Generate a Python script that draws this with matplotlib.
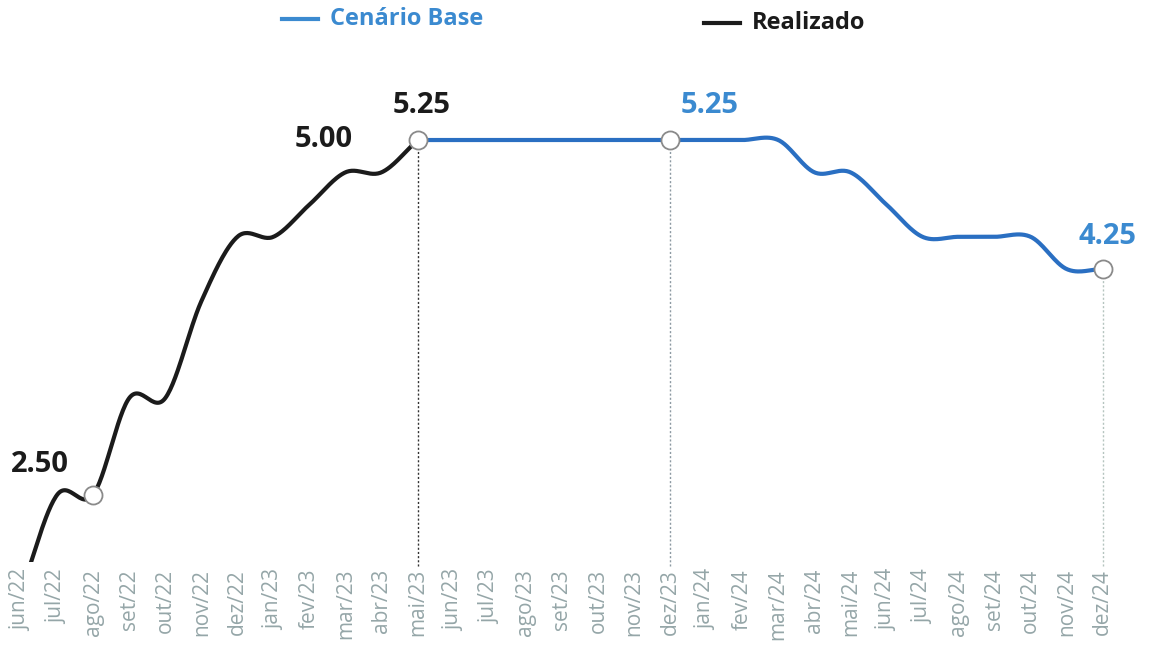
import matplotlib.pyplot as plt
from matplotlib.lines import Line2D
import numpy as np

plt.rcParams["font.family"] = ["Open Sans", "DejaVu Sans"]

months = [
    "jun/22", "jul/22", "ago/22", "set/22", "out/22", "nov/22", "dez/22",
    "jan/23", "fev/23", "mar/23", "abr/23", "mai/23", "jun/23", "jul/23",
    "ago/23", "set/23", "out/23", "nov/23", "dez/23", "jan/24", "fev/24",
    "mar/24", "abr/24", "mai/24", "jun/24", "jul/24", "ago/24", "set/24",
    "out/24", "nov/24", "dez/24",
]
# realizado: jun/22 .. mai/23
realizado = [1.75, 2.50, 2.50, 3.25, 3.25, 4.00, 4.50, 4.50, 4.75, 5.00, 5.00, 5.25]
# cenario base: mai/23 .. dez/24
cenario = [5.25, 5.25, 5.25, 5.25, 5.25, 5.25, 5.25, 5.25, 5.25, 5.25, 5.25,
           5.00, 5.00, 4.75, 4.50, 4.50, 4.50, 4.50, 4.25, 4.25]

BLUE = "#2a6fc2"
BLUE_TXT = "#3b8ad0"
BLACK = "#1b1b1b"
TICK = "#95a6a8"


def smooth(xs, ys, n=30):
    # catmull-rom through the monthly points
    xs = np.asarray(xs, float)
    ys = np.asarray(ys, float)
    m = np.gradient(ys, xs)
    outx, outy = [], []
    for i in range(len(xs) - 1):
        t = np.linspace(0, 1, n)
        h = xs[i + 1] - xs[i]
        h00 = 2 * t**3 - 3 * t**2 + 1
        h10 = t**3 - 2 * t**2 + t
        h01 = -2 * t**3 + 3 * t**2
        h11 = t**3 - t**2
        outx.extend(xs[i] + t * h)
        outy.extend(h00 * ys[i] + h10 * h * m[i] + h01 * ys[i + 1] + h11 * h * m[i + 1])
    return np.array(outx), np.array(outy)


fig = plt.figure(figsize=(11.5, 6.56), dpi=100)
ax = fig.add_axes([0.0026, 0.1433, 0.972, 0.7652])

x_real = np.arange(len(realizado))
x_cen = np.arange(len(realizado) - 1, len(months))

sx, sy = smooth(x_cen, cenario)
ax.plot(sx, sy, color=BLUE, lw=3, solid_capstyle="round")
sx, sy = smooth(x_real, realizado)
ax.plot(sx, sy, color=BLACK, lw=3, solid_capstyle="round")

ymin = 1.98
ax.set_ylim(ymin, 5.87)
ax.set_xlim(-0.5, len(months) - 0.5)

# dotted guides
i_mai, i_dez23, i_dez24 = 11, 18, 30
ax.vlines(i_mai, ymin - 0.03, realizado[-1], colors="#333333", lw=1, linestyles=(0, (1.5, 1.5)), clip_on=False)
ax.vlines(i_dez23, ymin - 0.03, cenario[i_dez23 - 11], colors="#8d9aa3", lw=1, linestyles=(0, (1.5, 1.5)), clip_on=False)
ax.vlines(i_dez24, ymin - 0.03, cenario[-1], colors="#b5c4bf", lw=1, linestyles=(0, (1.5, 1.5)), clip_on=False)

# markers
mk = dict(marker="o", ms=13, mfc="white", mec="#8a8a8a", mew=1.3, ls="none", zorder=5)
ax.plot([2], [realizado[2]], **mk)
ax.plot([i_mai], [realizado[-1]], **mk)
ax.plot([i_dez23], [cenario[i_dez23 - 11]], **mk)
ax.plot([i_dez24], [cenario[-1]], **mk)

# value labels
lab = dict(textcoords="offset pixels", ha="center", va="bottom", fontsize=21, fontweight="bold")
ax.annotate("2.50", (1, realizado[1]), xytext=(-17, 16), color=BLACK, **lab)
ax.annotate("5.00", (9, realizado[9]), xytext=(-22, 18), color=BLACK, **lab)
ax.annotate("5.25", (i_mai, realizado[-1]), xytext=(4, 20), color=BLACK, **lab)
ax.annotate("5.25", (i_dez23, cenario[i_dez23 - 11]), xytext=(40, 20), color=BLUE_TXT, **lab)
ax.annotate("4.25", (i_dez24, cenario[-1]), xytext=(5, 18), color=BLUE_TXT, **lab)

ax.set_xticks(range(len(months)))
ax.set_xticklabels(months, rotation=90, fontsize=15, color=TICK)
ax.tick_params(axis="x", length=0, pad=5)
ax.set_yticks([])
for s in ax.spines.values():
    s.set_visible(False)

# legend drawn by hand at the top
fig.add_artist(Line2D([282 / 1150, 318 / 1150], [1 - 19 / 656] * 2, color="#3b8ad0", lw=3))
fig.text(330 / 1150, 1 - 19 / 656, "Cenário Base", color="#3b8ad0", fontsize=17,
         fontweight="bold", va="center", ha="left")
fig.add_artist(Line2D([704 / 1150, 740 / 1150], [1 - 23 / 656] * 2, color=BLACK, lw=3))
fig.text(752 / 1150, 1 - 23 / 656, "Realizado", color=BLACK, fontsize=17,
         fontweight="bold", va="center", ha="left")

fig.savefig("out.png", dpi=100)
